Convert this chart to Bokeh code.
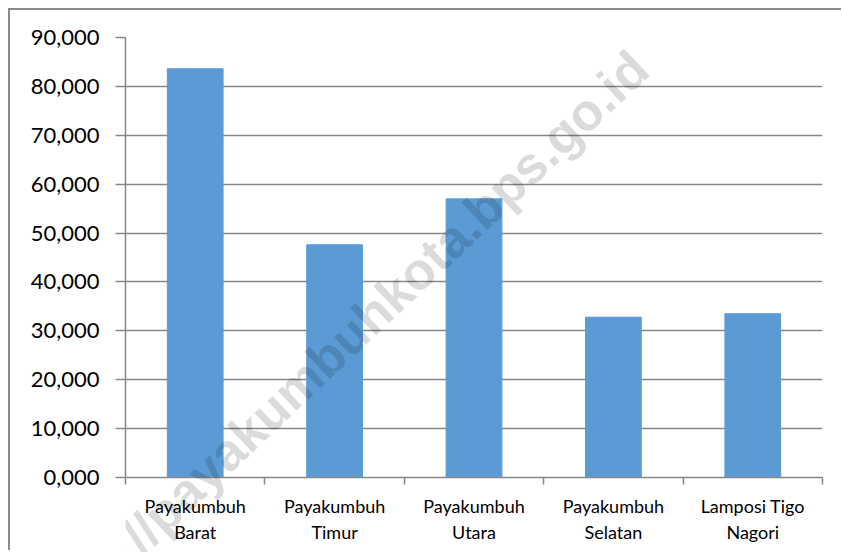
from bokeh.plotting import figure
from bokeh.layouts import column
from bokeh.models import Range1d, FixedTicker, Label
from bokeh.embed import file_html
from bokeh.resources import INLINE

categories = ["Payakumbuh\nBarat", "Payakumbuh\nTimur", "Payakumbuh\nUtara",
              "Payakumbuh\nSelatan", "Lamposi Tigo\nNagori"]
values = [83.6, 47.6, 57.0, 32.8, 33.5]
y_ticks = [0, 10, 20, 30, 40, 50, 60, 70, 80, 90]
y_tick_labels = ["0,000", "10,000", "20,000", "30,000", "40,000",
                 "50,000", "60,000", "70,000", "80,000", "90,000"]
watermark = "http://payakumbuhkota.bps.go.id"

positions = [i + 0.5 for i in range(len(categories))]
boundaries = list(range(len(categories) + 1))

GRAY = "#888888"
FONT = "Lato"
W, H = 833, 542

p = figure(width=W, height=H, output_backend="svg", toolbar_location=None,
           x_range=Range1d(0, len(categories)), y_range=Range1d(0, 90),
           min_border_left=115, min_border_right=21, min_border_top=27,
           min_border_bottom=75)
p.styles = {"margin-left": "8px", "margin-top": "8px",
            "border-left": "2px solid #8a8a8a", "border-top": "2px solid #8a8a8a"}
p.outline_line_color = None
p.background_fill_color = "white"
p.border_fill_color = "white"

p.vbar(x=positions, top=values, width=0.4, bottom=0, color="#5B9BD5")

# y axis
p.yaxis.ticker = FixedTicker(ticks=y_ticks)
p.yaxis.major_label_overrides = {t: l for t, l in zip(y_ticks, y_tick_labels)}
p.yaxis.axis_line_color = GRAY
p.yaxis.axis_line_width = 1.5
p.yaxis.major_tick_line_color = GRAY
p.yaxis.major_tick_line_width = 1.5
p.yaxis.major_tick_out = 10
p.yaxis.major_tick_in = 0
p.yaxis.minor_tick_line_color = None
p.yaxis.major_label_standoff = 16
p.yaxis.major_label_text_font = FONT
p.yaxis.major_label_text_font_size = "22px"
p.yaxis.major_label_text_color = "#000000"

# x axis
p.xaxis.ticker = FixedTicker(ticks=positions, minor_ticks=boundaries)
p.xaxis.major_label_overrides = {pos: c for pos, c in zip(positions, categories)}
p.xaxis.axis_line_color = GRAY
p.xaxis.axis_line_width = 1.5
p.xaxis.major_tick_line_color = None
p.xaxis.major_tick_out = 0
p.xaxis.major_tick_in = 0
p.xaxis.minor_tick_line_color = GRAY
p.xaxis.minor_tick_line_width = 1.5
p.xaxis.minor_tick_out = 7
p.xaxis.minor_tick_in = 0
p.xaxis.major_label_standoff = 10
p.xaxis.major_label_text_font = FONT
p.xaxis.major_label_text_font_size = "18px"
p.xaxis.major_label_text_color = "#000000"

p.xgrid.grid_line_color = None
p.ygrid.grid_line_color = GRAY
p.ygrid.grid_line_width = 1.5

# transparent overlay figure holding the watermark (so it is not clipped to the frame)
wm_fig = figure(width=W, height=H, output_backend="svg", toolbar_location=None,
                x_range=Range1d(0, 1), y_range=Range1d(0, 1), min_border=0,
                x_axis_type=None, y_axis_type=None)
wm_fig.outline_line_color = None
wm_fig.background_fill_color = None
wm_fig.border_fill_color = None
wm_fig.xgrid.grid_line_color = None
wm_fig.ygrid.grid_line_color = None
wm_fig.styles = {"position": "absolute", "top": "10px", "left": "10px",
                 "pointer-events": "none", "z-index": "10"}
wm = Label(x=218, y=211, x_units="screen", y_units="screen", text=watermark,
           angle=43.5, angle_units="deg", text_align="center", text_baseline="middle",
           text_font="Liberation Sans", text_font_style="bold",
           text_font_size="52px", text_color="#000000", text_alpha=0.14)
wm_fig.add_layout(wm)

layout = column(p, wm_fig)
open("out.html", "w").write(file_html(layout, INLINE))
